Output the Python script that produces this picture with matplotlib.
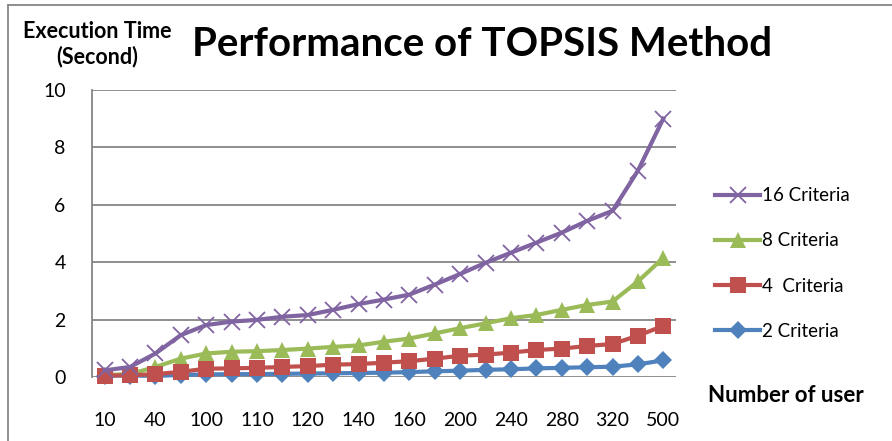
import matplotlib.pyplot as plt
from matplotlib.lines import Line2D

plt.rcParams['font.family'] = ['Lato', 'DejaVu Sans']

# categories (number of users); only every other one is labelled in the chart
users = ["10", "20", "40", "60", "100", "105", "110", "115", "120", "130", "140", "150",
         "160", "180", "200", "220", "240", "260", "280", "300", "320", "400", "500"]

crit2 = [0.05, 0.05, 0.04, 0.07, 0.09, 0.10, 0.10, 0.11, 0.12, 0.13, 0.14, 0.15,
         0.17, 0.20, 0.22, 0.25, 0.27, 0.30, 0.32, 0.34, 0.36, 0.44, 0.58]
crit4 = [0.05, 0.06, 0.10, 0.18, 0.29, 0.30, 0.32, 0.35, 0.38, 0.43, 0.45, 0.50,
         0.55, 0.64, 0.74, 0.78, 0.85, 0.94, 0.99, 1.08, 1.15, 1.44, 1.78]
crit8 = [0.07, 0.10, 0.35, 0.64, 0.82, 0.88, 0.90, 0.94, 0.99, 1.05, 1.10, 1.23,
         1.34, 1.52, 1.70, 1.87, 2.05, 2.16, 2.34, 2.51, 2.63, 3.33, 4.15]
crit16 = [0.23, 0.35, 0.82, 1.46, 1.81, 1.93, 1.99, 2.10, 2.16, 2.34, 2.54, 2.70,
          2.87, 3.22, 3.59, 3.98, 4.33, 4.68, 5.03, 5.44, 5.79, 7.19, 9.00]

W, H = 892, 441
fig = plt.figure(figsize=(W / 100, H / 100), dpi=100)
ax = fig.add_axes([92 / W, 64 / H, (676 - 92) / W, (377 - 90) / H])

x = range(len(users))
series = [
    ("2 Criteria", crit2, "#4F81BD", "D", 9, 2),
    ("4  Criteria", crit4, "#C0504D", "s", 11, 4),
    ("8 Criteria", crit8, "#9BBB59", "^", 12, 3),
    ("16 Criteria", crit16, "#8064A2", "x", 11, 5),
]
handles = []
for label, vals, col, mk, ms, z in series:
    mew = 1.3 if mk == "x" else 0
    ax.plot(x, vals, color=col, lw=3, marker=mk, ms=ms, mew=mew,
            mec=col, mfc=col, zorder=z, clip_on=False)
    handles.append(Line2D([], [], color=col, lw=3, marker=mk, ms=ms, mew=mew,
                          mec=col, mfc=col, label=label))

ax.set_xlim(-0.5, len(users) - 0.5)
ax.set_ylim(0, 10)
ax.set_yticks(range(0, 11, 2))
ax.set_xticks(list(x)[::2])
ax.set_xticklabels(users[::2])
ax.grid(axis="y", color="#868686", lw=1.3)
ax.set_axisbelow(True)
for s in ["top", "right", "bottom"]:
    ax.spines[s].set_visible(False)
ax.spines["left"].set_color("#868686")
ax.spines["left"].set_linewidth(1.3)
ax.tick_params(axis="y", length=0, pad=19, labelsize=14)
ax.tick_params(axis="x", length=0, pad=25, labelsize=14)

fig.text(482 / W, 1 - 45 / H, "Performance of TOPSIS Method", ha="center", va="center",
         fontsize=29, fontweight="bold")
fig.text(97 / W, 1 - 44 / H, "Execution Time\n(Second)", ha="center", va="center",
         fontsize=15.5, fontweight="bold", linespacing=1.2)
fig.text(786 / W, 1 - 396 / H, "Number of user", ha="center", va="center",
         fontsize=16, fontweight="bold")

fig.legend(handles=handles[::-1], loc="upper left", bbox_to_anchor=(706 / W, 1 - 178 / H),
           frameon=False, fontsize=13.5, handlelength=2.4, handletextpad=0.1,
           labelspacing=1.5, borderpad=0)

# chart area border (left and top only visible)
fig.add_artist(Line2D([8 / W, 8 / W], [0, 1 - 5 / H], color="#868686", lw=1.3))
fig.add_artist(Line2D([8 / W, 1], [1 - 5 / H, 1 - 5 / H], color="#868686", lw=1.3))

fig.savefig("out.png", dpi=100)
